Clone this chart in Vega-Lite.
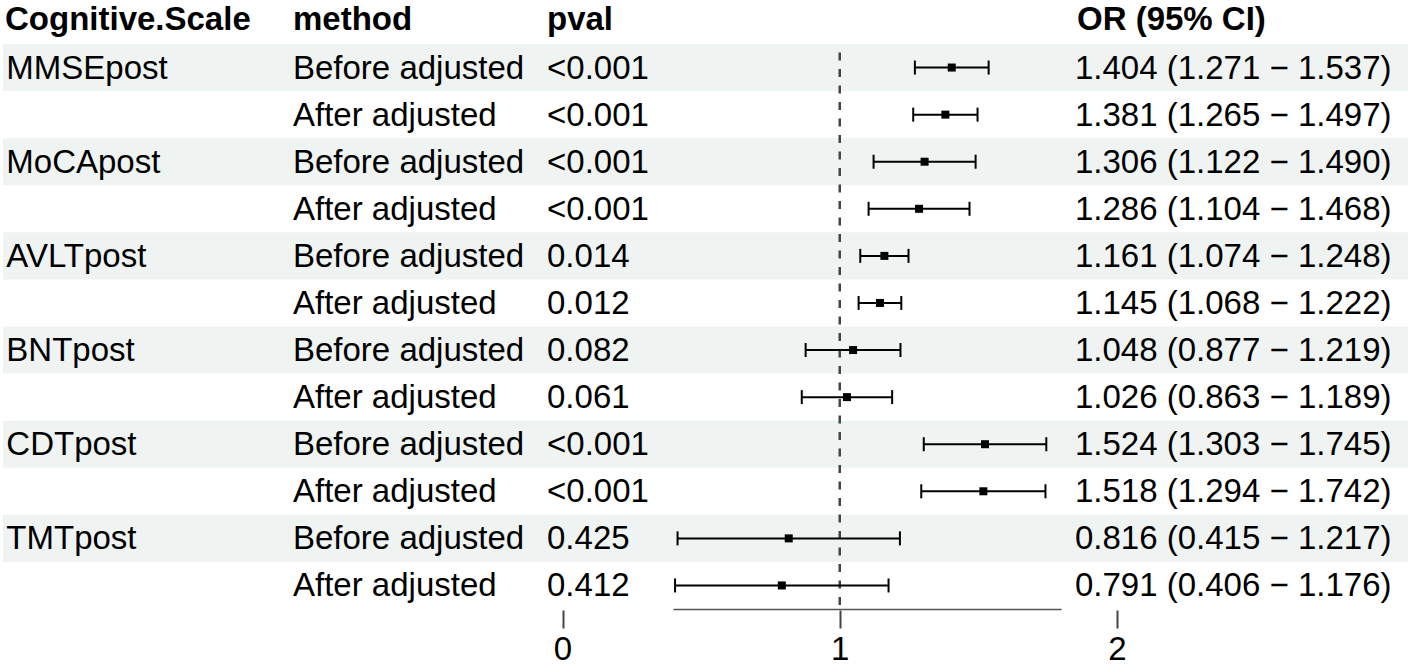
{
  "$schema": "https://vega.github.io/schema/vega-lite/v6.json",
  "padding": 0,
  "spacing": 0,
  "bounds": "flush",
  "background": "white",
  "config": {"view": {"stroke": null}},
  "datasets": {
    "rows": [
      {"row": 1, "scale": "MMSEpost", "method": "Before adjusted", "pval": "<0.001", "or": 1.404, "lo": 1.271, "hi": 1.537, "ci": "1.404 (1.271 − 1.537)"},
      {"row": 2, "scale": "MMSEpost", "method": "After adjusted", "pval": "<0.001", "or": 1.381, "lo": 1.265, "hi": 1.497, "ci": "1.381 (1.265 − 1.497)"},
      {"row": 3, "scale": "MoCApost", "method": "Before adjusted", "pval": "<0.001", "or": 1.306, "lo": 1.122, "hi": 1.490, "ci": "1.306 (1.122 − 1.490)"},
      {"row": 4, "scale": "MoCApost", "method": "After adjusted", "pval": "<0.001", "or": 1.286, "lo": 1.104, "hi": 1.468, "ci": "1.286 (1.104 − 1.468)"},
      {"row": 5, "scale": "AVLTpost", "method": "Before adjusted", "pval": "0.014", "or": 1.161, "lo": 1.074, "hi": 1.248, "ci": "1.161 (1.074 − 1.248)"},
      {"row": 6, "scale": "AVLTpost", "method": "After adjusted", "pval": "0.012", "or": 1.145, "lo": 1.068, "hi": 1.222, "ci": "1.145 (1.068 − 1.222)"},
      {"row": 7, "scale": "BNTpost", "method": "Before adjusted", "pval": "0.082", "or": 1.048, "lo": 0.877, "hi": 1.219, "ci": "1.048 (0.877 − 1.219)"},
      {"row": 8, "scale": "BNTpost", "method": "After adjusted", "pval": "0.061", "or": 1.026, "lo": 0.863, "hi": 1.189, "ci": "1.026 (0.863 − 1.189)"},
      {"row": 9, "scale": "CDTpost", "method": "Before adjusted", "pval": "<0.001", "or": 1.524, "lo": 1.303, "hi": 1.745, "ci": "1.524 (1.303 − 1.745)"},
      {"row": 10, "scale": "CDTpost", "method": "After adjusted", "pval": "<0.001", "or": 1.518, "lo": 1.294, "hi": 1.742, "ci": "1.518 (1.294 − 1.742)"},
      {"row": 11, "scale": "TMTpost", "method": "Before adjusted", "pval": "0.425", "or": 0.816, "lo": 0.415, "hi": 1.217, "ci": "0.816 (0.415 − 1.217)"},
      {"row": 12, "scale": "TMTpost", "method": "After adjusted", "pval": "0.412", "or": 0.791, "lo": 0.406, "hi": 1.176, "ci": "0.791 (0.406 − 1.176)"}
    ],
    "header": [
      {"column": "Cognitive.Scale"},
      {"column": "method"},
      {"column": "pval"},
      {"column": "OR (95% CI)"}
    ],
    "ref": [{"value": 1}],
    "xlim": [{"lower": 0.4, "upper": 1.8}]
  },
  "vconcat": [
    {
      "width": 1414,
      "height": 44,
      "data": {"name": "header"},
      "layer": [
        {
          "transform": [{"filter": "datum.column == 'Cognitive.Scale'"}],
          "mark": {"type": "text", "align": "left", "baseline": "middle", "dy": -2, "font": "Liberation Sans", "fontSize": 33, "fontWeight": "bold", "color": "#000000"},
          "encoding": {
            "x": {"datum": -2.0108, "type": "quantitative", "scale": {"domain": [0, 2], "range": [562.5, 1117], "nice": false, "zero": false}, "axis": null},
            "text": {"field": "column"}
          }
        },
        {
          "transform": [{"filter": "datum.column == 'method'"}],
          "mark": {"type": "text", "align": "left", "baseline": "middle", "dy": -2, "font": "Liberation Sans", "fontSize": 33, "fontWeight": "bold", "color": "#000000"},
          "encoding": {
            "x": {"datum": -0.9721, "type": "quantitative", "axis": null},
            "text": {"field": "column"}
          }
        },
        {
          "transform": [{"filter": "datum.column == 'pval'"}],
          "mark": {"type": "text", "align": "left", "baseline": "middle", "dy": -2, "font": "Liberation Sans", "fontSize": 33, "fontWeight": "bold", "color": "#000000"},
          "encoding": {
            "x": {"datum": -0.0559, "type": "quantitative", "axis": null},
            "text": {"field": "column"}
          }
        },
        {
          "transform": [{"filter": "datum.column == 'OR (95% CI)'"}],
          "mark": {"type": "text", "align": "left", "baseline": "middle", "dy": -2, "font": "Liberation Sans", "fontSize": 33, "fontWeight": "bold", "color": "#000000"},
          "encoding": {
            "x": {"datum": 1.8557, "type": "quantitative", "axis": null},
            "text": {"field": "column"}
          }
        }
      ]
    },
    {
      "width": 1414,
      "height": 565,
      "layer": [
        {
          "data": {"name": "rows"},
          "encoding": {
            "y": {"field": "row", "type": "ordinal", "scale": {"domain": [1, 2, 3, 4, 5, 6, 7, 8, 9, 10, 11, 12], "paddingInner": 0, "paddingOuter": 0}, "axis": null}
          },
          "layer": [
            {
              "transform": [{"filter": "datum.method == 'Before adjusted'"}],
              "mark": {"type": "rect", "color": "#eff3f2"},
              "encoding": {
                "x": {"datum": -2.018, "type": "quantitative", "scale": {"domain": [0, 2], "range": [562.5, 1117], "nice": false, "zero": false}, "axis": null},
                "x2": {"datum": 3.0495}
              }
            },
            {
              "transform": [{"filter": "datum.method == 'Before adjusted'"}],
              "mark": {"type": "text", "align": "left", "baseline": "middle", "dy": 1, "font": "Liberation Sans", "fontSize": 33, "color": "#000000"},
              "encoding": {
                "x": {"datum": -2.006, "type": "quantitative", "axis": null},
                "text": {"field": "scale"}
              }
            },
            {
              "mark": {"type": "text", "align": "left", "baseline": "middle", "dy": 1, "font": "Liberation Sans", "fontSize": 33, "color": "#000000"},
              "encoding": {
                "x": {"datum": -0.9721, "type": "quantitative", "axis": null},
                "text": {"field": "method"}
              }
            },
            {
              "mark": {"type": "text", "align": "left", "baseline": "middle", "dy": 1, "font": "Liberation Sans", "fontSize": 33, "color": "#000000"},
              "encoding": {
                "x": {"datum": -0.0559, "type": "quantitative", "axis": null},
                "text": {"field": "pval"}
              }
            },
            {
              "mark": {"type": "text", "align": "left", "baseline": "middle", "dy": 1, "font": "Liberation Sans", "fontSize": 33, "color": "#000000"},
              "encoding": {
                "x": {"datum": 1.8485, "type": "quantitative", "axis": null},
                "text": {"field": "ci"}
              }
            }
          ]
        },
        {
          "data": {"name": "ref"},
          "mark": {"type": "rule", "color": "#444444", "strokeWidth": 2.5, "strokeDash": [8, 8.5], "strokeDashOffset": 8},
          "encoding": {
            "x": {"field": "value", "type": "quantitative", "axis": null}
          }
        },
        {
          "data": {"name": "rows"},
          "encoding": {
            "y": {"field": "row", "type": "ordinal", "axis": null}
          },
          "layer": [
            {
              "mark": {"type": "rule", "color": "#000000", "strokeWidth": 2},
              "encoding": {
                "x": {"field": "lo", "type": "quantitative", "axis": null},
                "x2": {"field": "hi"}
              }
            },
            {
              "mark": {"type": "tick", "orient": "vertical", "size": 14, "thickness": 2, "color": "#000000", "opacity": 1},
              "encoding": {"x": {"field": "lo", "type": "quantitative", "axis": null}}
            },
            {
              "mark": {"type": "tick", "orient": "vertical", "size": 14, "thickness": 2, "color": "#000000", "opacity": 1},
              "encoding": {"x": {"field": "hi", "type": "quantitative", "axis": null}}
            },
            {
              "mark": {"type": "square", "size": 64, "filled": true, "color": "#000000", "opacity": 1},
              "encoding": {"x": {"field": "or", "type": "quantitative", "axis": null}}
            }
          ]
        }
      ]
    },
    {
      "width": 1414,
      "height": 1,
      "data": {"name": "xlim"},
      "mark": {"type": "rule", "color": "#555555", "strokeWidth": 1.6},
      "encoding": {
        "x": {
          "field": "lower", "type": "quantitative",
          "scale": {"domain": [0, 2], "range": [562.5, 1117], "nice": false, "zero": false},
          "axis": {"orient": "bottom", "values": [0, 1, 2], "tickCount": 10, "tickMinStep": 0.1, "format": "d", "title": null, "domain": false, "grid": false, "ticks": true, "tickColor": "#444444", "tickWidth": 2, "tickSize": 18, "labelFont": "Liberation Sans", "labelFontSize": 33, "labelColor": "#000000", "labelPadding": 5, "labelAlign": "center", "labelFlush": false, "labelOverlap": false}
        },
        "x2": {"field": "upper"}
      }
    }
  ]
}
